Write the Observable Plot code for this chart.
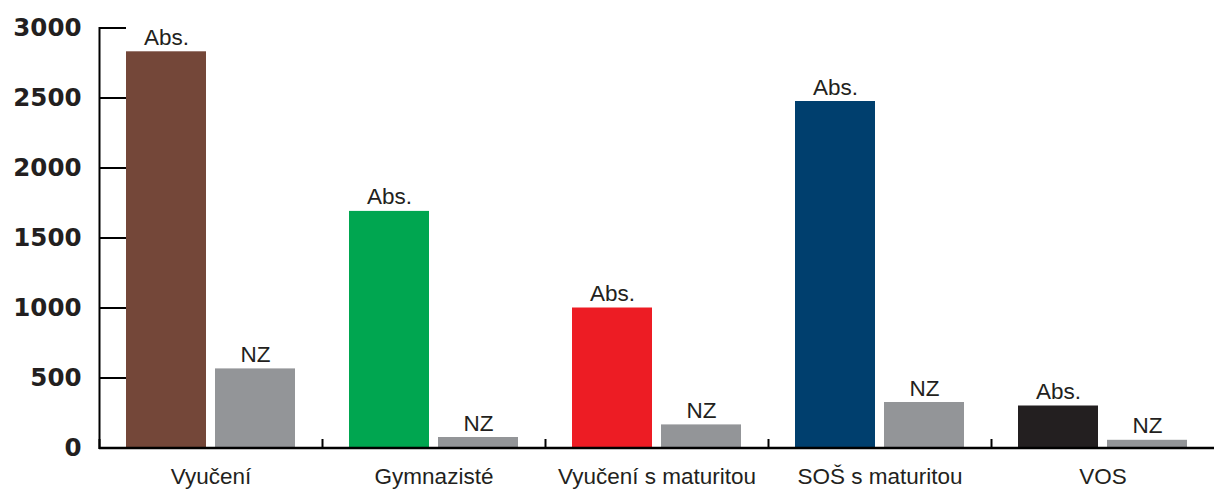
<!DOCTYPE html>
<html>
<head>
<meta charset="utf-8">
<script src="https://cdn.jsdelivr.net/npm/d3@7"></script>
<script src="https://cdn.jsdelivr.net/npm/@observablehq/plot@0.6"></script>
<style>
  html, body { margin: 0; padding: 0; background: #fff; }
</style>
</head>
<body>
<div id="chart"></div>
<script>
const categories = ["Vyučení", "Gymnazisté", "Vyučení s maturitou", "SOŠ s maturitou", "VOS"];
const series = ["Abs.", "NZ"];
const absValues = [2830, 1690, 1000, 2475, 300];
const nzValues = [565, 75, 165, 325, 55];
const absColors = ["#744739", "#00a650", "#ed1c24", "#003f6e", "#231f20"];
const nzColor = "#939598";
const yTicks = [0, 500, 1000, 1500, 2000, 2500, 3000];

const data = [];
categories.forEach((c, i) => {
  data.push({category: c, series: series[0], value: absValues[i], color: absColors[i]});
  data.push({category: c, series: series[1], value: nzValues[i], color: nzColor});
});

const chart = Plot.plot({
  width: 1214,
  height: 491,
  marginLeft: 98,
  marginRight: 0,
  marginTop: 27.5,
  marginBottom: 43.5,
  style: {fontFamily: "Liberation Sans, Arial, sans-serif", background: "#fff", color: "#231f20"},
  fx: {domain: categories, paddingInner: 0, paddingOuter: 0, label: null},
  x: {domain: series, paddingInner: 0.1, paddingOuter: 0.29, axis: null},
  y: {domain: [0, 3000], label: null},
  color: {type: "identity"},
  marks: [
    Plot.barY(data, {fx: "category", x: "series", y: "value", fill: "color"}),
    Plot.text(data, {fx: "category", x: "series", y: "value", text: "series", lineAnchor: "bottom", dy: -7, fontSize: 22.5, fill: "#231f20"}),
    Plot.frame({anchor: "left", insetTop: 412, strokeWidth: 2, stroke: "#000"}),
    Plot.frame({anchor: "left", fx: () => categories[0], strokeWidth: 2, stroke: "#000"}),
    Plot.ruleY([0], {strokeWidth: 2.5, stroke: "#000"}),
    Plot.axisY({ticks: yTicks, tickSize: -27, tickPadding: 45, tickFormat: d => String(d), fontSize: 24.5, fontWeight: "bold", fontFamily: "DejaVu Sans, sans-serif", strokeWidth: 2, stroke: "#000", fill: "#231f20", label: null}),
    Plot.axisFx({anchor: "bottom", tickSize: 0, tickPadding: 20, fontSize: 22.5, fill: "#231f20", label: null})
  ]
});
document.getElementById("chart").appendChild(chart);
</script>
</body>
</html>
